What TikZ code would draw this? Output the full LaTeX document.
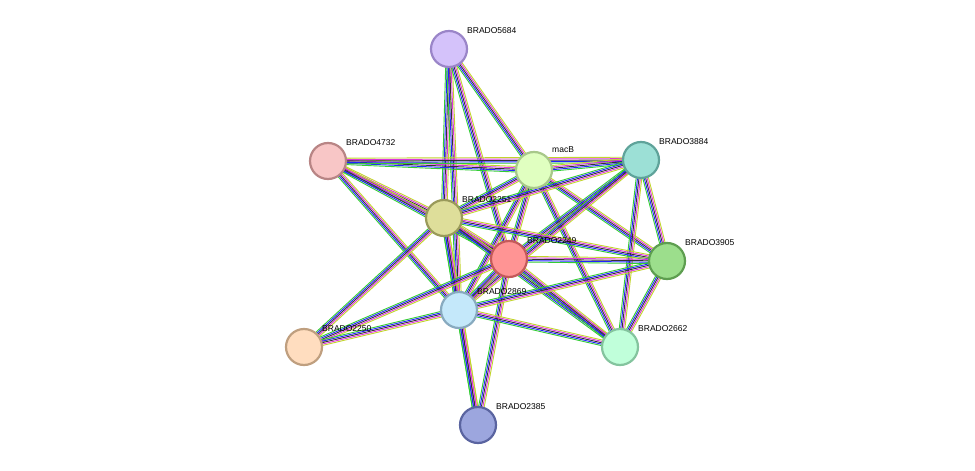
\documentclass[tikz,border=0pt]{standalone}
\usepackage{fontspec}
\setmainfont{Liberation Sans}
\usetikzlibrary{calc}
\definecolor{egreen}{HTML}{33CC33}
\definecolor{eblue}{HTML}{2222FF}
\definecolor{eblack}{HTML}{333333}
\definecolor{emag}{HTML}{DD33DD}
\definecolor{eyel}{HTML}{C2D42C}
\definecolor{f5684}{HTML}{D4C2FA}\definecolor{d5684}{HTML}{9A85C8}
\definecolor{f4732}{HTML}{F8C6C6}\definecolor{d4732}{HTML}{B88585}
\definecolor{fmacB}{HTML}{E0FFC0}\definecolor{dmacB}{HTML}{A8C88A}
\definecolor{f3884}{HTML}{9CE0D6}\definecolor{d3884}{HTML}{5FA39A}
\definecolor{f2251}{HTML}{DEDE9A}\definecolor{d2251}{HTML}{9A9A5A}
\definecolor{f2249}{HTML}{FF9494}\definecolor{d2249}{HTML}{C45A5A}
\definecolor{f3905}{HTML}{9CDE8C}\definecolor{d3905}{HTML}{5E9E50}
\definecolor{f2869}{HTML}{C4E8FA}\definecolor{d2869}{HTML}{88AABF}
\definecolor{f2250}{HTML}{FFDDBF}\definecolor{d2250}{HTML}{BF9F7F}
\definecolor{f2662}{HTML}{C0FFDA}\definecolor{d2662}{HTML}{84C49E}
\definecolor{f2385}{HTML}{9CA6DE}\definecolor{d2385}{HTML}{5A64A0}
\tikzset{
  prot/.style={circle, minimum size=36pt, inner sep=0pt, line width=2.2pt, fill=f#1, draw=d#1},
  tag/.style={font=\fontsize{8.5}{10}\selectfont, anchor=south west, inner sep=1pt}
}
\newcommand\link[2]{%
  \foreach \c/\k in {egreen/-2.8,eblue/-1.4,eblack/0,emag/1.4,eyel/2.8}{%
    \draw[\c, line width=0.9pt] ($(#1)!\k pt!90:(#2)$) -- ($(#2)!\k pt!-90:(#1)$);}}
\begin{document}
\begin{tikzpicture}[x=1pt,y=-1pt]
    \useasboundingbox (0,0) rectangle (975,471);
    % positions
    \coordinate (p5684) at (449,49);
    \coordinate (p4732) at (328,161);
    \coordinate (pmacB) at (534,170);
    \coordinate (p3884) at (641,160);
    \coordinate (p2251) at (444,218);
    \coordinate (p2249) at (509,259);
    \coordinate (p3905) at (667,261);
    \coordinate (p2869) at (459,310);
    \coordinate (p2250) at (304,347);
    \coordinate (p2662) at (620,347);
    \coordinate (p2385) at (478,425);
    % edges
    \foreach \a/\b in {p5684/p2251,p5684/p2869,p5684/p2249,p5684/pmacB,
        p4732/pmacB,p4732/p3884,p4732/p2251,p4732/p2249,p4732/p2869,
        pmacB/p3884,pmacB/p2251,pmacB/p2249,pmacB/p2869,pmacB/p3905,pmacB/p2662,
        p3884/p2251,p3884/p2249,p3884/p2869,p3884/p3905,p3884/p2662,
        p2251/p2249,p2251/p2869,p2251/p3905,p2251/p2662,p2251/p2250,p2251/p2385,
        p2249/p3905,p2249/p2869,p2249/p2662,p2249/p2250,p2249/p2385,
        p3905/p2869,p3905/p2662,p2869/p2250,p2869/p2662,p2869/p2385}
        {\link{\a}{\b}}
    % proteins
    \foreach \n in {5684,4732,macB,3884,2251,2249,3905,2869,2250,2662,2385}
        \node[prot=\n] (n\n) at (p\n) {};
    % labels
    \node[tag] at ($(n5684)+(17,-14)$) {BRADO5684};
    \node[tag] at ($(n4732)+(17,-14)$) {BRADO4732};
    \node[tag] at ($(nmacB)+(17,-16)$) {macB};
    \node[tag] at ($(n3884)+(17,-14)$) {BRADO3884};
    \node[tag] at ($(n2251)+(17,-14)$) {BRADO2251};
    \node[tag] at ($(n2249)+(17,-14)$) {BRADO2249};
    \node[tag] at ($(n3905)+(17,-14)$) {BRADO3905};
    \node[tag] at ($(n2869)+(17,-14)$) {BRADO2869};
    \node[tag] at ($(n2250)+(17,-14)$) {BRADO2250};
    \node[tag] at ($(n2662)+(17,-14)$) {BRADO2662};
    \node[tag] at ($(n2385)+(17,-14)$) {BRADO2385};
\end{tikzpicture}
\end{document}
